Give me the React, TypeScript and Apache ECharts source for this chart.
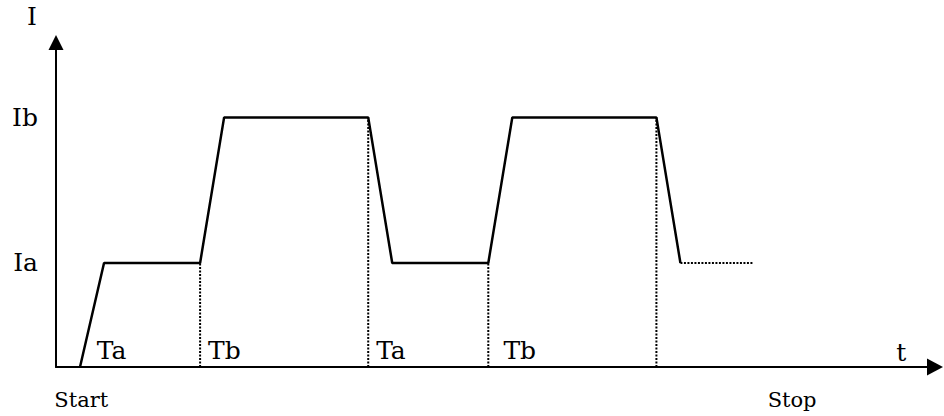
import React, { useEffect, useRef } from 'react';
import * as echarts from 'echarts';

// Current levels (y) and their names
const levelNames = ['Ia', 'Ib'];
const levelValues = [5, 12];

// Main solid waveform (time, current)
const waveTimes = [1, 2, 6, 7, 13, 14, 18, 19, 25, 26];
const waveLevels = [0, 5, 5, 12, 12, 5, 5, 12, 12, 5];

// Dotted continuation after the last fall
const tailTimes = [26, 29];
const tailLevels = [5, 5];

// Dotted vertical phase separators (time, level they reach)
const dropTimes = [6, 13, 18, 25];
const dropLevels = [5, 12, 5, 12];

// Phase annotations
const phaseLabels = ['Ta', 'Tb', 'Ta', 'Tb'];
const phaseLabelTimes = [1.7, 6.33, 13.33, 18.63];
const phaseLabelLevel = 0.77;

// Start / Stop annotations under the time axis
const endLabels = ['Start', 'Stop'];
const endLabelTimes = [1.05, 30.65];
const endLabelLevel = -1.6;

// Axis names
const yAxisName = 'I';
const xAxisName = 't';
const xAxisNameTime = 35.2;
const xAxisNameLevel = 0.72;

const serif = "'DejaVu Serif', serif";

export default function App() {
  const ref = useRef<HTMLDivElement>(null);

  useEffect(() => {
    if (!ref.current) return;
    const chart = echarts.init(ref.current, null, { renderer: 'svg' });

    const labelSeries = (data: any[], fontSize: number, position: string) => ({
      type: 'scatter',
      data,
      symbolSize: 0,
      itemStyle: { color: '#000', opacity: 1 },
      silent: true,
      clip: false,
      label: {
        show: true,
        position,
        distance: 0,
        formatter: '{b}',
        color: '#000',
        opacity: 1,
        fontFamily: serif,
        fontSize,
      },
    });

    const series: any[] = [
      {
        type: 'line',
        data: waveTimes.map((t, i) => [t, waveLevels[i]]),
        symbol: 'none',
        silent: true,
        lineStyle: { color: '#000', width: 2.5 },
        z: 3,
      },
      {
        type: 'line',
        data: tailTimes.map((t, i) => [t, tailLevels[i]]),
        symbol: 'none',
        silent: true,
        lineStyle: { color: '#000', width: 2, type: [2, 1.5] },
      },
      ...dropTimes.map((t, i) => ({
        type: 'line',
        data: [
          [t, 0],
          [t, dropLevels[i]],
        ],
        symbol: 'none',
        silent: true,
        lineStyle: { color: '#000', width: 2, type: [2, 1.5] },
      })),
      labelSeries(
        phaseLabels.map((n, i) => ({ value: [phaseLabelTimes[i], phaseLabelLevel], name: n })),
        25,
        'right'
      ),
      labelSeries(
        endLabels.map((n, i) => ({ value: [endLabelTimes[i], endLabelLevel], name: n })),
        21,
        'inside'
      ),
      labelSeries([{ value: [xAxisNameTime, xAxisNameLevel], name: xAxisName }], 25, 'inside'),
    ];

    chart.setOption({
      animation: false,
      backgroundColor: '#fff',
      grid: { left: 56, right: 9, top: 42.5, bottom: 49, outerBoundsMode: 'none' },
      xAxis: {
        type: 'value',
        min: 0,
        max: 36.6,
        axisLine: {
          show: true,
          onZero: false,
          lineStyle: { color: '#000', width: 2 },
          symbol: ['none', 'triangle'],
          symbolSize: [17, 16],
        },
        axisTick: { show: false },
        axisLabel: { show: false },
        splitLine: { show: false },
      },
      yAxis: {
        type: 'value',
        min: 0,
        max: 15.6,
        interval: 1,
        name: yAxisName,
        nameLocation: 'end',
        nameGap: 14,
        nameTextStyle: {
          color: '#000',
          fontFamily: serif,
          fontSize: 25,
          align: 'right',
          padding: [0, 19, 0, 0],
        },
        axisLine: {
          show: true,
          onZero: false,
          lineStyle: { color: '#000', width: 2 },
          symbol: ['none', 'triangle'],
          symbolSize: [15, 15],
        },
        axisTick: { show: false },
        splitLine: { show: false },
        axisLabel: {
          show: true,
          margin: 18,
          color: '#000',
          fontFamily: serif,
          fontSize: 25,
          padding: [0, 0, 12, 0],
          formatter: (v: number) => {
            const idx = levelValues.findIndex((lv) => Math.abs(lv - v) < 1e-6);
            return idx >= 0 ? levelNames[idx] : '';
          },
        },
      },
      series,
    });

    return () => chart.dispose();
  }, []);

  return (
    <div
      ref={ref}
      style={{ position: 'fixed', left: 0, top: 0, width: 944, height: 416, background: '#fff' }}
    />
  );
}
